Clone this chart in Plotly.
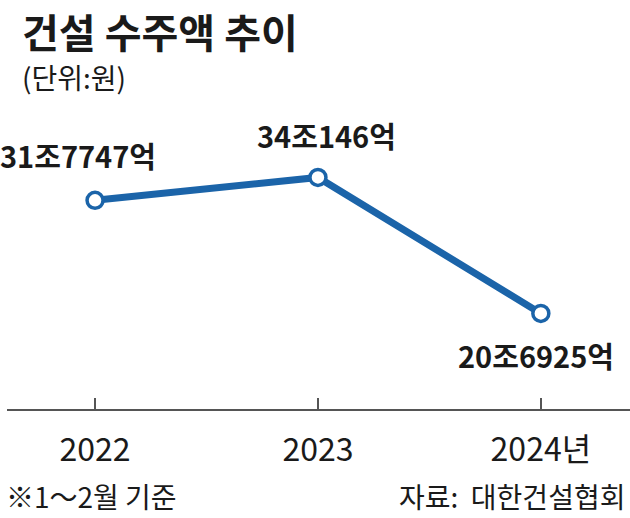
import plotly.graph_objects as go

years = ["2022", "2023", "2024년"]
values = [31.7747, 34.0146, 20.6925]  # 조원
value_labels = ["31조7747억", "34조146억", "20조6925억"]

title_text = "건설 수주액 추이"
unit_text = "(단위:원)"
note_text = "※1～2월 기준"
source_text = "자료:  대한건설협회"

FONT = "Noto Sans CJK KR, sans-serif"
BLUE = "#1b64a9"
TXT = "#1a1a1a"

W, H = 630, 518
L, R, T, B = 7, 0, 100, 109

xs = [0, 1, 2]

fig = go.Figure()
fig.add_trace(go.Scatter(
    x=xs, y=values, mode="lines+markers",
    line=dict(color=BLUE, width=7),
    marker=dict(size=16, color="white", line=dict(color=BLUE, width=3.5)),
    hoverinfo="skip", showlegend=False,
))

offsets = [(-17, -45), (9, -42), (-5, 42)]
for x, v, lab, (dx, dy) in zip(xs, values, value_labels, offsets):
    fig.add_annotation(
        x=x, y=v, xref="x", yref="y", text="<b>" + lab + "</b>",
        showarrow=True, arrowcolor="rgba(0,0,0,0)", ax=dx, ay=dy,
        font=dict(family=FONT, size=29, color=TXT),
        xanchor="center", yanchor="middle",
    )


def px_to_paper_x(px):
    return (px - L) / (W - L - R)


def px_to_paper_y(py):
    return (H - B - py) / (H - T - B)


anns = [
    (title_text, 20, 31, "left", 40, True),
    (unit_text, 20, 77, "left", 28, False),
    (note_text, 4, 496, "left", 28, False),
    (source_text, 627, 496, "right", 28, False),
]
for text, px, py, anchor, size, bold in anns:
    fig.add_annotation(
        x=px_to_paper_x(px), y=px_to_paper_y(py), xref="paper", yref="paper",
        text=("<b>" + text + "</b>") if bold else text,
        showarrow=False, xanchor=anchor, yanchor="middle",
        font=dict(family=FONT, size=size, color=TXT, weight=900 if bold else 400),
    )

fig.update_xaxes(
    range=[-0.395, 2.40], tickvals=xs, ticktext=years,
    showline=True, linecolor="#555555", linewidth=1.5,
    ticks="inside", ticklen=11, tickwidth=1.5, tickcolor="#555555",
    showgrid=False, zeroline=False, fixedrange=True,
    tickfont=dict(family=FONT, size=32, color=TXT),
    ticklabelstandoff=12,
)
fig.update_yaxes(
    range=[11.33, 41.6], visible=False, showgrid=False, zeroline=False, fixedrange=True,
)
fig.update_layout(
    width=W, height=H,
    margin=dict(l=L, r=R, t=T, b=B, pad=0),
    paper_bgcolor="white", plot_bgcolor="white",
    font=dict(family=FONT, color=TXT),
)

fig.write_html(
    "out.html",
    config={"displayModeBar": False},
    post_script="document.body.style.margin='0';document.body.style.overflow='hidden';",
)
